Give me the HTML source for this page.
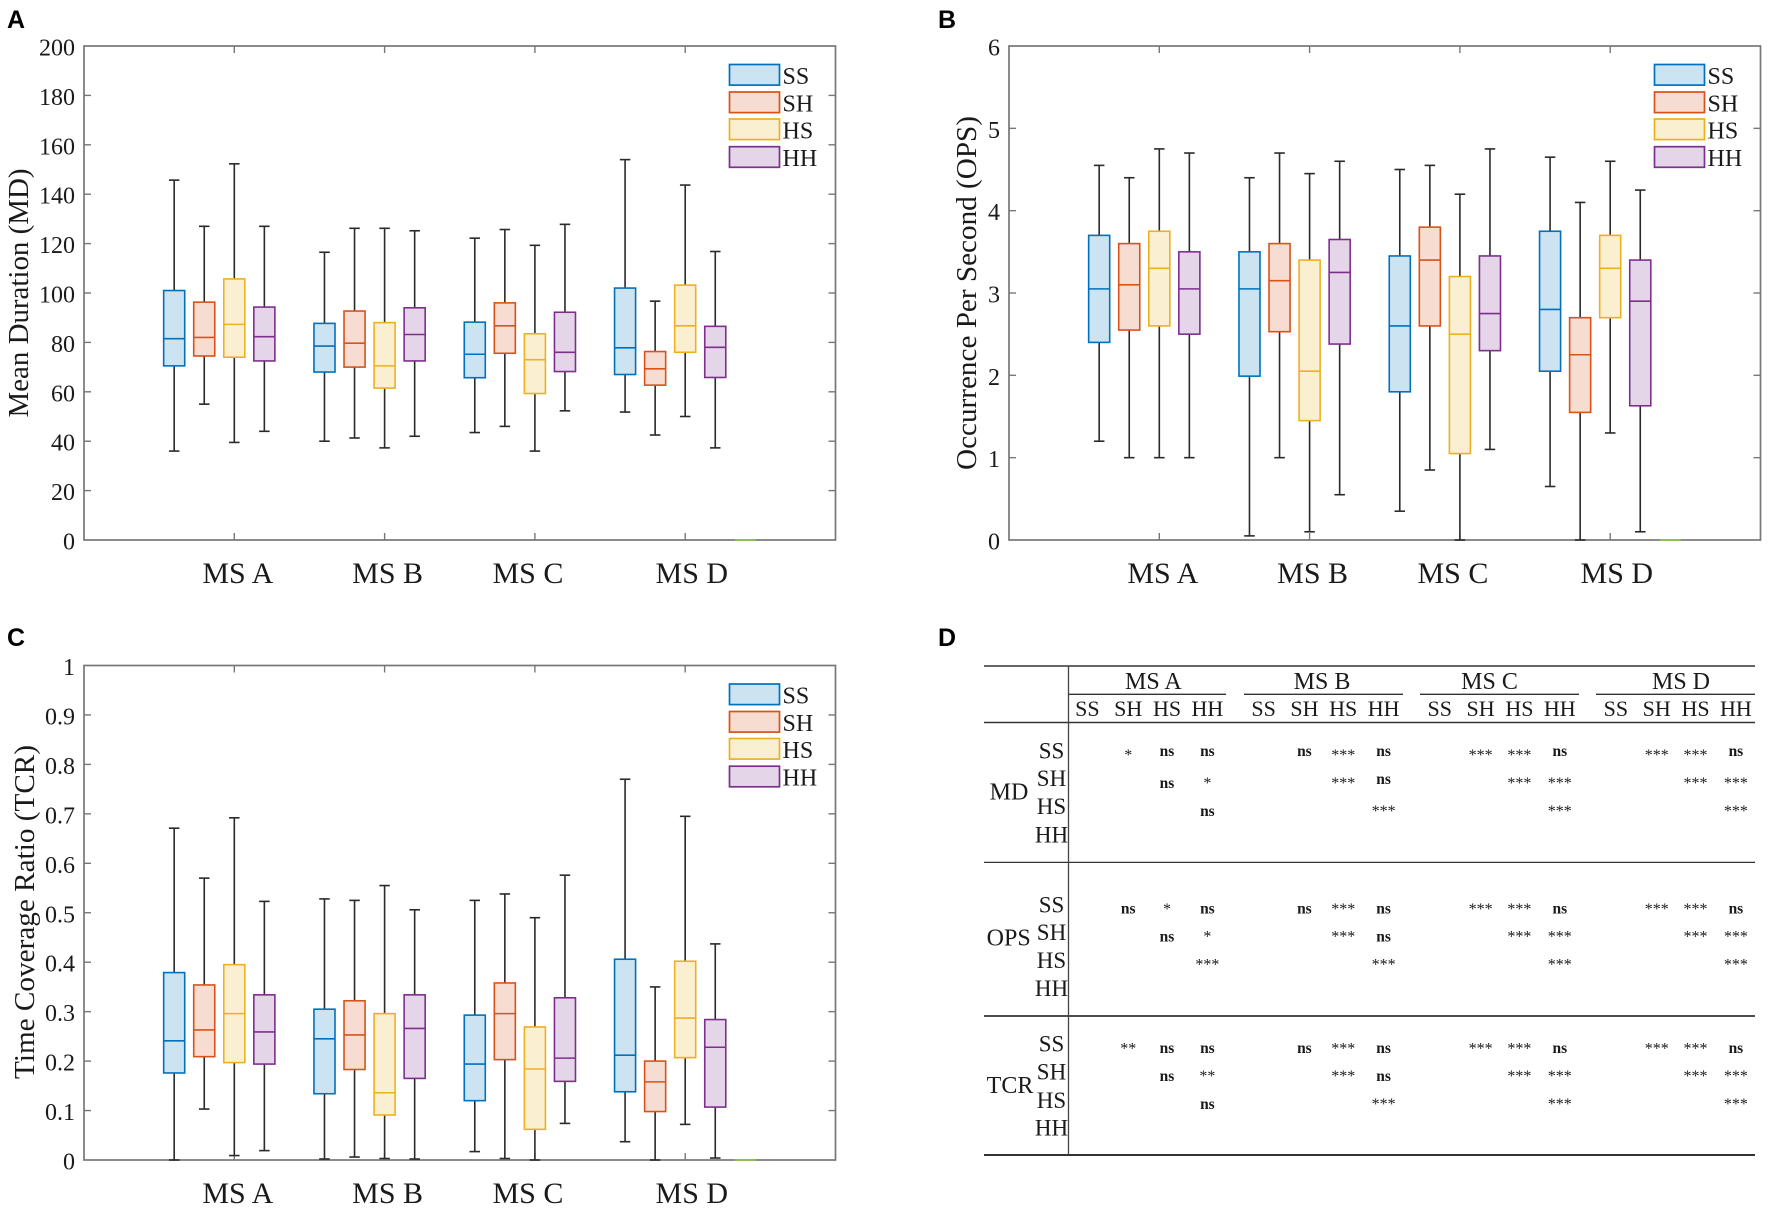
<!DOCTYPE html>
<html lang="en">
<head>
<meta charset="utf-8">
<title>Microstate box plots and significance table</title>
<style>
html,body{margin:0;padding:0;background:#fff;}
svg{display:block;}
text{font-family:"Liberation Serif","Times New Roman",serif;fill:#1a1a1a;}
.panel-letter{font-family:"Liberation Sans",Arial,sans-serif;font-weight:bold;font-size:25px;fill:#000;}
</style>
</head>
<body>
<svg id="figure" xmlns="http://www.w3.org/2000/svg" width="1772" height="1211" viewBox="0 0 1772 1211">
  <text class="panel-letter" x="7" y="28">A</text>
  <text class="panel-letter" x="938" y="28">B</text>
  <text class="panel-letter" x="7" y="646">C</text>
  <text class="panel-letter" x="938" y="646">D</text>
  <g id="chart-a"></g>
  <g id="chart-b"></g>
  <g id="chart-c"></g>
  <g id="table-d"></g>
</svg>
<script>
// Shared categories
const categories = ['MS A', 'MS B', 'MS C', 'MS D'];
const seriesNames = ['SS', 'SH', 'HS', 'HH'];

// Mean Duration: each entry is [low whisker, Q1, median, Q3, high whisker] for MS A-D
const mdSS = [[36, 70.5, 81.5, 101, 145.7], [40, 68, 78.5, 87.7, 116.5], [43.5, 65.7, 75.2, 88.2, 122.2], [51.8, 67, 77.8, 102, 154]];
const mdSH = [[55, 74.5, 82, 96.3, 127], [41.3, 70, 79.7, 92.7, 126.2], [46, 75.6, 86.7, 96, 125.7], [42.5, 62.7, 69.3, 76.3, 96.7]];
const mdHS = [[39.5, 74, 87.3, 105.7, 152.3], [37.3, 61.5, 70.5, 88, 126.2], [36, 59.3, 73, 83.5, 119.3], [50, 76, 86.7, 103.2, 143.7]];
const mdHH = [[44, 72.5, 82.3, 94.3, 127], [42, 72.5, 83.2, 94, 125.2], [52.3, 68.2, 76, 92.2, 127.8], [37.3, 65.8, 78, 86.5, 116.8]];
const mdTicks = [0, 20, 40, 60, 80, 100, 120, 140, 160, 180, 200];

// Occurrence Per Second
const opsSS = [[1.2, 2.4, 3.05, 3.7, 4.55], [0.05, 1.99, 3.05, 3.5, 4.4], [0.35, 1.8, 2.6, 3.45, 4.5], [0.65, 2.05, 2.8, 3.75, 4.65]];
const opsSH = [[1, 2.55, 3.1, 3.6, 4.4], [1, 2.53, 3.15, 3.6, 4.7], [0.85, 2.6, 3.4, 3.8, 4.55], [0, 1.55, 2.25, 2.7, 4.1]];
const opsHS = [[1, 2.6, 3.3, 3.75, 4.75], [0.1, 1.45, 2.05, 3.4, 4.45], [0, 1.05, 2.5, 3.2, 4.2], [1.3, 2.7, 3.3, 3.7, 4.6]];
const opsHH = [[1, 2.5, 3.05, 3.5, 4.7], [0.55, 2.38, 3.25, 3.65, 4.6], [1.1, 2.3, 2.75, 3.45, 4.75], [0.1, 1.63, 2.9, 3.4, 4.25]];
const opsTicks = [0, 1, 2, 3, 4, 5, 6];

// Time Coverage Ratio
const tcrSS = [[0, 0.176, 0.241, 0.379, 0.671], [0.002, 0.134, 0.245, 0.305, 0.528], [0.017, 0.12, 0.194, 0.293, 0.525], [0.037, 0.138, 0.212, 0.406, 0.77]];
const tcrSH = [[0.103, 0.209, 0.263, 0.354, 0.57], [0.006, 0.183, 0.253, 0.322, 0.525], [0.003, 0.203, 0.296, 0.358, 0.538], [0, 0.098, 0.158, 0.2, 0.35]];
const tcrHS = [[0.009, 0.197, 0.296, 0.395, 0.692], [0.003, 0.091, 0.136, 0.296, 0.555], [0, 0.062, 0.184, 0.269, 0.49], [0.072, 0.207, 0.287, 0.402, 0.695]];
const tcrHH = [[0.019, 0.194, 0.259, 0.334, 0.523], [0.002, 0.165, 0.266, 0.334, 0.506], [0.074, 0.159, 0.206, 0.328, 0.576], [0.004, 0.107, 0.228, 0.284, 0.437]];
const tcrTicks = [0, 0.1, 0.2, 0.3, 0.4, 0.5, 0.6, 0.7, 0.8, 0.9, 1];

// Significance table: rows SS, SH, HS; '' is an empty cell. Columns SS, SH, HS, HH.
const sigMD = [
  [['', '*', 'ns', 'ns'], ['', '', 'ns', '*'], ['', '', '', 'ns']],
  [['', 'ns', '***', 'ns'], ['', '', '***', 'ns'], ['', '', '', '***']],
  [['', '***', '***', 'ns'], ['', '', '***', '***'], ['', '', '', '***']],
  [['', '***', '***', 'ns'], ['', '', '***', '***'], ['', '', '', '***']]
];
const sigOPS = [
  [['', 'ns', '*', 'ns'], ['', '', 'ns', '*'], ['', '', '', '***']],
  [['', 'ns', '***', 'ns'], ['', '', '***', 'ns'], ['', '', '', '***']],
  [['', '***', '***', 'ns'], ['', '', '***', '***'], ['', '', '', '***']],
  [['', '***', '***', 'ns'], ['', '', '***', '***'], ['', '', '', '***']]
];
const sigTCR = [
  [['', '**', 'ns', 'ns'], ['', '', 'ns', '**'], ['', '', '', 'ns']],
  [['', 'ns', '***', 'ns'], ['', '', '***', 'ns'], ['', '', '', '***']],
  [['', '***', '***', 'ns'], ['', '', '***', '***'], ['', '', '', '***']],
  [['', '***', '***', 'ns'], ['', '', '***', '***'], ['', '', '', '***']]
];

const NS = 'http://www.w3.org/2000/svg';
const seriesColors = ['#0072BD', '#D95319', '#EDB120', '#7E2F8E'];
const seriesOffsets = [-0.4, -0.2, 0, 0.2];
const labelNudge = [3.5, 3, -7, 6.6];
const axisColor = '#777';
const whiskerColor = '#2a2a2a';

function make(parent, tag, attrs, txt) {
  const el = document.createElementNS(NS, tag);
  for (const k in attrs) el.setAttribute(k, attrs[k]);
  if (txt !== undefined) el.textContent = txt;
  parent.appendChild(el);
  return el;
}

function drawChart(g, cfg) {
  const xScale = v => cfg.left + (v / 5) * (cfg.right - cfg.left);
  const yScale = v => cfg.bottom - ((v - cfg.ticks[0]) / (cfg.ticks[cfg.ticks.length - 1] - cfg.ticks[0])) * (cfg.bottom - cfg.top);

  const frame = make(g, 'rect', { x: cfg.left, y: cfg.top, width: cfg.right - cfg.left, height: cfg.bottom - cfg.top, fill: '#fff', stroke: axisColor, 'stroke-width': 1.7 });
  
  

  cfg.ticks.forEach(t => {
    const y = yScale(t);
    if (t !== cfg.ticks[0] && t !== cfg.ticks[cfg.ticks.length - 1]) {
      const l1 = make(g, 'line', { x1: cfg.left, x2: cfg.left + 7, y1: y, y2: y, stroke: axisColor, 'stroke-width': 1.4 });
      
      
      const l2 = make(g, 'line', { x1: cfg.right, x2: cfg.right - 7, y1: y, y2: y, stroke: axisColor, 'stroke-width': 1.4 });
      
      
    }
    const lab = make(g, 'text', { x: cfg.left - 9, y: y + 9.5, 'text-anchor': 'end', 'font-size': 24 }, String(t));
    
    
  });

  categories.forEach((c, i) => {
    const x = xScale(i + 1);
    const t1 = make(g, 'line', { x1: x, x2: x, y1: cfg.bottom, y2: cfg.bottom - 7, stroke: axisColor, 'stroke-width': 1.4 });
    
    
    const t2 = make(g, 'line', { x1: x, x2: x, y1: cfg.top, y2: cfg.top + 7, stroke: axisColor, 'stroke-width': 1.4 });
    
    
    const lab = make(g, 'text', { x: x + labelNudge[i], y: cfg.bottom + 43, 'text-anchor': 'middle', 'font-size': 30 }, c);
    
    
  });

  const title = make(g, 'text', {
    transform: 'translate(' + cfg.labelX + ',' + cfg.labelY + ') rotate(-90)',
    'text-anchor': 'middle', 'font-size': 28, textLength: cfg.labelLen, lengthAdjust: 'spacingAndGlyphs'
  }, cfg.label);
  
  

  const stray = make(g, 'line', { x1: xScale(4.33), x2: xScale(4.47), y1: cfg.bottom, y2: cfg.bottom, stroke: '#8bc34a', 'stroke-width': 1.7 });
  
  

  cfg.series.forEach((vals, s) => {
    vals.forEach((d, i) => {
      const cx = xScale(i + 1 + seriesOffsets[s]);
      const hw = (xScale(0.14) - xScale(0)) / 2;
      const cw = (xScale(0.07) - xScale(0)) / 2;
      const box = make(g, 'g', {});
      
      
      make(box, 'line', { x1: cx, x2: cx, y1: yScale(d[0]), y2: yScale(d[1]), stroke: whiskerColor, 'stroke-width': 1.6 });
      make(box, 'line', { x1: cx, x2: cx, y1: yScale(d[3]), y2: yScale(d[4]), stroke: whiskerColor, 'stroke-width': 1.6 });
      make(box, 'line', { x1: cx - cw, x2: cx + cw, y1: yScale(d[0]), y2: yScale(d[0]), stroke: whiskerColor, 'stroke-width': 1.6 });
      make(box, 'line', { x1: cx - cw, x2: cx + cw, y1: yScale(d[4]), y2: yScale(d[4]), stroke: whiskerColor, 'stroke-width': 1.6 });
      make(box, 'rect', { x: cx - hw, y: yScale(d[3]), width: hw * 2, height: yScale(d[1]) - yScale(d[3]), fill: seriesColors[s], 'fill-opacity': 0.2, stroke: seriesColors[s], 'stroke-width': 1.6 });
      make(box, 'line', { x1: cx - hw, x2: cx + hw, y1: yScale(d[2]), y2: yScale(d[2]), stroke: seriesColors[s], 'stroke-width': 1.6 });
    });
  });

  const legendTops = [18.5, 46, 73, 100.7];
  seriesNames.forEach((n, s) => {
    const ly = cfg.top + legendTops[s];
    const lx = cfg.right - 106;
    const swatch = make(g, 'rect', { x: lx, y: ly, width: 50, height: 20.6, fill: seriesColors[s], 'fill-opacity': 0.2, stroke: seriesColors[s], 'stroke-width': 1.7 });
    
    
    const lt = make(g, 'text', { x: lx + 53, y: ly + 19.5, 'font-size': 24 }, n);
    
    
  });
}

drawChart(document.getElementById('chart-a'), {
  left: 84, right: 835.5, top: 46, bottom: 540, ticks: mdTicks,
  series: [mdSS, mdSH, mdHS, mdHH], label: 'Mean Duration (MD)', labelX: 28, labelY: 293, labelLen: 249
});
drawChart(document.getElementById('chart-b'), {
  left: 1009, right: 1760.5, top: 46, bottom: 540, ticks: opsTicks,
  series: [opsSS, opsSH, opsHS, opsHH], label: 'Occurrence Per Second (OPS)', labelX: 976, labelY: 293, labelLen: 354
});
drawChart(document.getElementById('chart-c'), {
  left: 84, right: 835.5, top: 665.5, bottom: 1160, ticks: tcrTicks,
  series: [tcrSS, tcrSH, tcrHS, tcrHH], label: 'Time Coverage Ratio (TCR)', labelX: 34, labelY: 912, labelLen: 334
});

// Table D
(function () {
  const g = document.getElementById('table-d');
  const rule = (x1, x2, y, w, name) => {
    const l = make(g, 'line', { x1: x1, x2: x2, y1: y, y2: y, stroke: '#333', 'stroke-width': w });
    
    
  };
  rule(984, 1755, 666, 1.5, 'table-top-rule');
  rule(984, 1755, 722.5, 1.5, 'table-header-rule');
  rule(984, 1755, 862.4, 1.3, 'table-md-rule');
  rule(984, 1755, 1016, 1.7, 'table-ops-rule');
  rule(984, 1755, 1155, 2, 'table-bottom-rule');
  const vr = make(g, 'line', { x1: 1068.5, x2: 1068.5, y1: 666, y2: 1155, stroke: '#444', 'stroke-width': 1.3 });
  
  

  const groupStart = [1068.5, 1244, 1420, 1596];
  const groupEnd = [1226, 1403, 1579, 1755];
  const groupCenter = [1153.4, 1322, 1489.5, 1681];
  const colBase = [1087.4, 1128.2, 1167, 1207.4];
  const groupShift = [0, 176.2, 352.4, 528.5];

  categories.forEach((c, i) => {
    rule(groupStart[i], groupEnd[i], 694.3, 1.3, 'table-group-rule');
    const t = make(g, 'text', { x: groupCenter[i], y: 689, 'text-anchor': 'middle', 'font-size': 24 }, c);
    
    
    seriesNames.forEach((n, s) => {
      const h = make(g, 'text', { x: colBase[s] + groupShift[i], y: 716, 'text-anchor': 'middle', 'font-size': 22 }, n);
      
      
    });
  });

  const metrics = [
    { name: 'MD', x: 1009, y: 799.4, rows: [758.3, 786.2, 814, 842.4], nsY: [752, 784, 812.2], nsYLater: [752, 780.2, 812.2], starY: [753, 781, 809], sig: sigMD },
    { name: 'OPS', x: 1008.7, y: 945.7, rows: [912.5, 940, 968, 995.8], nsY: [909.5, 937.8, 965], nsYLater: [909.5, 937.8, 965], starY: [906.8, 934.7, 962.6], sig: sigOPS },
    { name: 'TCR', x: 1010, y: 1093, rows: [1051.6, 1079.5, 1107.8, 1135.6], nsY: [1049, 1077.2, 1105], nsYLater: [1049, 1077.2, 1105], starY: [1046.3, 1074.2, 1102], sig: sigTCR }
  ];
  metrics.forEach(m => {
    const ml = make(g, 'text', { x: m.x, y: m.y, 'text-anchor': 'middle', 'font-size': 24 }, m.name);
    
    
    seriesNames.forEach((n, r) => {
      const rl = make(g, 'text', { x: 1051.5, y: m.rows[r], 'text-anchor': 'middle', 'font-size': 23 }, n);
      
      
    });
    m.sig.forEach((block, i) => {
      block.forEach((row, r) => {
        row.forEach((v, col) => {
          if (!v) return;
          const isNs = v === 'ns';
          const nsCenters = i === 0 ? m.nsY : m.nsYLater;
          const cell = make(g, 'text', {
            x: colBase[col] + groupShift[i],
            y: isNs ? nsCenters[r] + 3.8 : m.starY[r] + 7,
            'text-anchor': 'middle', 'font-size': isNs ? 15.5 : 16, 'font-weight': isNs ? 'bold' : 'normal'
          }, v);
          
          
        });
      });
    });
  });
})();
</script>
</body>
</html>
